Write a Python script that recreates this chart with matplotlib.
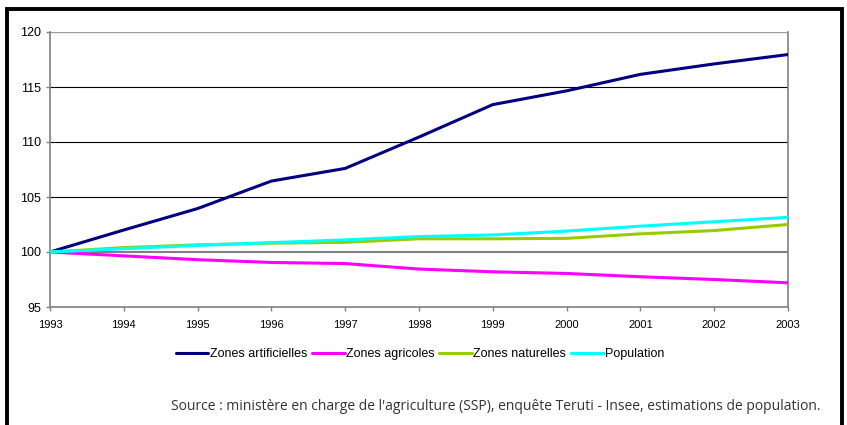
import matplotlib.pyplot as plt
from matplotlib.patches import Rectangle

years = ['1993', '1994', '1995', '1996', '1997', '1998', '1999', '2000', '2001', '2002', '2003']
artificielles = [100, 102.0, 103.95, 106.45, 107.6, 110.45, 113.4, 114.65, 116.15, 117.1, 117.95]
agricoles = [100, 99.65, 99.3, 99.05, 98.95, 98.45, 98.2, 98.05, 97.75, 97.5, 97.2]
naturelles = [100, 100.4, 100.65, 100.8, 100.88, 101.2, 101.2, 101.24, 101.65, 101.95, 102.5]
population = [100, 100.3, 100.6, 100.85, 101.1, 101.4, 101.55, 101.9, 102.35, 102.75, 103.15]

series = [
    ('Zones artificielles', artificielles, '#000080'),
    ('Zones agricoles', agricoles, '#FF00FF'),
    ('Zones naturelles', naturelles, '#99CC00'),
    ('Population', population, '#00FFFF'),
]

plt.rcParams['font.family'] = ['Liberation Sans', 'DejaVu Sans']

fig = plt.figure(figsize=(8.47, 4.25), dpi=100)
ax = fig.add_axes([50 / 847, 1 - 307 / 425, 738 / 847, 275 / 425])

x = list(range(len(years)))
for label, vals, col in series:
    ax.plot(x, vals, color=col, lw=2.2, label=label, solid_capstyle='round', zorder=3)

ax.set_xlim(0, len(years) - 1)
ax.set_ylim(95, 120)
ax.set_yticks([95, 100, 105, 110, 115, 120])
ax.set_xticks(x)
ax.set_xticklabels(years)

# horizontal grid lines
for v in [105, 110, 115]:
    ax.axhline(v, color='black', lw=0.8, zorder=1)
ax.axhline(100, color='#808080', lw=1.5, zorder=1)
ax.axhline(120, color='#a0a0a0', lw=1.0, zorder=1)

for side in ['left', 'bottom', 'right']:
    ax.spines[side].set_color('#808080')
    ax.spines[side].set_linewidth(1.2)
ax.spines['top'].set_visible(False)
ax.tick_params(axis='both', colors='#808080', labelcolor='black',
               direction='out', length=3, width=1)
ax.tick_params(axis='x', pad=6, labelsize=8)
ax.tick_params(axis='y', labelsize=9)

ax.legend(loc='center', bbox_to_anchor=(370 / 738, (307 - 354) / 275), ncol=4,
          frameon=False, fontsize=9, handlelength=2.6, handletextpad=0.1,
          columnspacing=0.4)

fig.text(820 / 847, 1 - 406 / 425,
         "Source : ministère en charge de l'agriculture (SSP), enquête Teruti - Insee, estimations de population.",
         ha='right', va='center', fontsize=10, family=['Open Sans', 'DejaVu Sans'], color='#333333')

# outer frame
fig.patches.append(Rectangle((7 / 847, -0.05), 835 / 847, 1 - 9 / 425 + 0.05,
                             transform=fig.transFigure, fill=False,
                             edgecolor='black', lw=2.8))

fig.savefig('out.png', dpi=100)
